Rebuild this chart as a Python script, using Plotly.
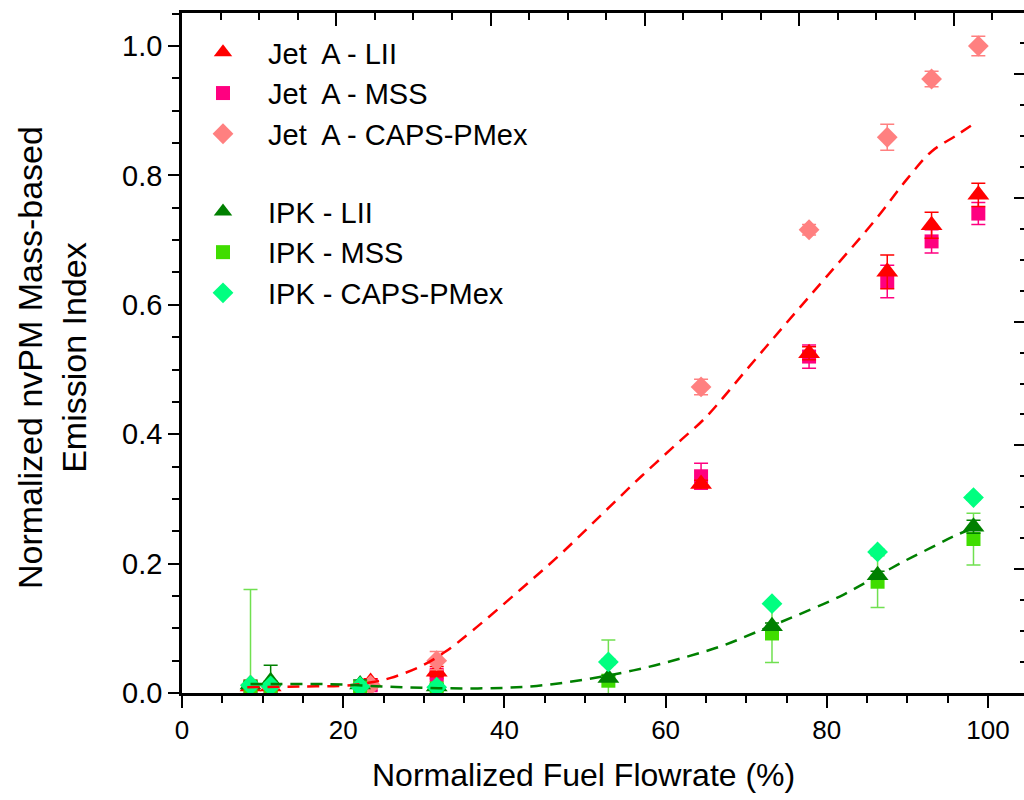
import plotly.graph_objects as go

# ---------------- data ----------------
jet_x = [8.5, 11.0, 23.4, 31.6, 64.4, 77.8, 87.5, 93.0, 98.8]
jet_lii = [0.010, 0.010, 0.017, 0.033, 0.323, 0.525, 0.651, 0.723, 0.770]
jet_lii_err = [0.005, 0.005, 0.005, 0.008, 0.006, 0.010, 0.026, 0.020, 0.018]
jet_mss = [0.008, 0.008, 0.012, 0.028, 0.335, 0.520, 0.636, 0.698, 0.741]
jet_mss_err = [0.012, 0.006, 0.008, 0.006, 0.020, 0.018, 0.025, 0.018, 0.017]
jet_caps = [0.012, 0.010, 0.012, 0.050, 0.473, 0.716, 0.859, 0.949, 1.000]
jet_caps_err = [0.005, 0.004, 0.005, 0.014, 0.012, 0.008, 0.020, 0.012, 0.015]

ipk_x = [8.5, 11.0, 22.1, 31.6, 52.9, 73.2, 86.3, 98.2]
ipk_lii = [0.013, 0.018, 0.013, 0.010, 0.023, 0.103, 0.182, 0.257]
ipk_lii_err = [0.005, 0.025, 0.007, 0.004, 0.004, 0.005, 0.006, 0.010]
ipk_mss = [0.010, 0.008, 0.008, 0.007, 0.019, 0.092, 0.172, 0.238]
ipk_mss_err = [0.150, 0.010, 0.005, 0.004, 0.063, 0.045, 0.040, 0.040]
ipk_caps = [0.012, 0.011, 0.010, 0.009, 0.048, 0.138, 0.218, 0.302]
ipk_caps_err = [0.004, 0.004, 0.004, 0.004, 0.004, 0.004, 0.004, 0.004]

jet_fit_x = [8.1, 14.7, 20.9, 23.7, 25.8, 29.6, 32.7, 36.1, 42, 47, 52, 57, 62, 64.9,
             70, 75, 80, 86, 90, 93, 96.1, 98.6]
jet_fit_y = [0.009, 0.010, 0.012, 0.017, 0.023, 0.041, 0.064, 0.097, 0.160, 0.215, 0.275,
             0.335, 0.392, 0.425, 0.499, 0.572, 0.644, 0.731, 0.795, 0.837, 0.862, 0.883]

ipk_fit_x = [8.5, 12, 16, 20, 25, 30, 35, 40, 44, 48, 52, 56, 60, 66.8, 72, 76.3, 81.6,
             85, 89.5, 93, 95.7, 98.2]
ipk_fit_y = [0.014, 0.014, 0.014, 0.013, 0.010, 0.008, 0.007, 0.008, 0.011, 0.017, 0.025,
             0.035, 0.047, 0.072, 0.098, 0.120, 0.149, 0.172, 0.203, 0.225, 0.242, 0.255]

x_ticks = [0, 20, 40, 60, 80, 100]
y_ticks = [0.0, 0.2, 0.4, 0.6, 0.8, 1.0]

C_JL, C_JM, C_JC = "#FF0000", "#FF0080", "#FF8080"
C_IL, C_IM, C_IC = "#008000", "#40DD00", "#00FF80"
FONT = "Liberation Sans, Arial, sans-serif"

fig = go.Figure()


def pts(x, y, err, name, color, symbol, size, group, rank, ecolor=None):
    fig.add_trace(go.Scatter(
        x=x, y=y, mode="markers", name=name, legendgroup=group, legendrank=rank,
        marker=dict(symbol=symbol, size=size, color=color, line=dict(width=0)),
        error_y=dict(type="data", array=err, visible=True, color=ecolor or color,
                     thickness=1.5, width=7),
    ))


pts(jet_x, jet_mss, jet_mss_err, "Jet\u00a0 A - MSS", C_JM, "square", 14, "jet", 2)
pts(jet_x, jet_lii, jet_lii_err, "Jet\u00a0 A - LII", C_JL, "triangle-up", 19, "jet", 1)
pts(jet_x, jet_caps, jet_caps_err, "Jet\u00a0 A - CAPS-PMex", C_JC, "diamond", 16, "jet", 3)
pts(ipk_x, ipk_mss, ipk_mss_err, "IPK - MSS", C_IM, "square", 14, "ipk", 5, "#70E050")
pts(ipk_x, ipk_lii, ipk_lii_err, "IPK - LII", C_IL, "triangle-up", 19, "ipk", 4)
pts(ipk_x, ipk_caps, ipk_caps_err, "IPK - CAPS-PMex", C_IC, "diamond", 16, "ipk", 6)

fig.add_trace(go.Scatter(x=jet_fit_x, y=jet_fit_y, mode="lines", showlegend=False,
                         line=dict(color="#FF0000", width=2.5, dash="12px,8px",
                                   shape="spline")))
fig.add_trace(go.Scatter(x=ipk_fit_x, y=ipk_fit_y, mode="lines", showlegend=False,
                         line=dict(color="#008000", width=2.5, dash="12px,8px",
                                   shape="spline")))

# helper trace so the top / right frame axes are drawn
fig.add_trace(go.Scatter(x=[None], y=[None], xaxis="x2", yaxis="y2", showlegend=False,
                         hoverinfo="skip"))

W, H = 1024, 800
L, R, T, B = 182, 0, 13, 107
pw = W - L - R
ph = H - T - B
xmax = pw / 8.06
ymax = ph / 647.0

fig.update_layout(
    width=W, height=H,
    margin=dict(l=L, r=R, t=T, b=B),
    paper_bgcolor="white", plot_bgcolor="white",
    font=dict(family=FONT, size=26, color="black"),
    showlegend=True,
    legend=dict(x=(178 - L) / pw, y=1 - 14 / ph, xanchor="left", yanchor="top",
                xref="paper", yref="paper",
                bgcolor="rgba(0,0,0,0)", borderwidth=0,
                font=dict(family=FONT, size=29, color="black"),
                traceorder="grouped", tracegroupgap=37,
                itemwidth=80),
    xaxis=dict(range=[0, xmax], tickvals=x_ticks, ticktext=[str(v) for v in x_ticks],
               showgrid=False, zeroline=False, showline=True, linecolor="black",
               linewidth=2.5, ticks="outside", ticklen=12, tickwidth=2, tickcolor="black",
               tickfont=dict(size=26), mirror=False,
               minor=dict(ticks="outside", ticklen=7, tickwidth=2, tickcolor="black",
                          dtick=5, tick0=0, showgrid=False)),
    yaxis=dict(range=[0, ymax], tickvals=y_ticks, ticktext=[f"{v:.1f}" for v in y_ticks],
               showgrid=False, zeroline=False, showline=True, linecolor="black",
               linewidth=2.5, ticks="outside", ticklen=11, tickwidth=2, tickcolor="black",
               tickfont=dict(size=29),
               minor=dict(ticks="outside", ticklen=7, tickwidth=2, tickcolor="black",
                          dtick=0.05, tick0=0, showgrid=False)),
    xaxis2=dict(overlaying="x", side="top", anchor="y", range=[0, pw / 154.3],
                dtick=1, tick0=0, showticklabels=False, showgrid=False, zeroline=False,
                showline=True, linecolor="black", linewidth=2.5, ticks="inside",
                ticklen=13, tickwidth=2, tickcolor="black",
                minor=dict(ticks="inside", ticklen=7, tickwidth=2, tickcolor="black",
                           dtick=0.25, tick0=0, showgrid=False)),
    yaxis2=dict(overlaying="y", side="right", anchor="x", range=[0, ph / 123.8],
                dtick=1, tick0=0, showticklabels=False, showgrid=False, zeroline=False,
                showline=False, ticks="inside", ticklen=10, tickwidth=2, tickcolor="black",
                minor=dict(ticks="inside", ticklen=4, tickwidth=2, tickcolor="black",
                           dtick=0.25, tick0=0, showgrid=False)),
)

fig.add_annotation(text="Normalized Fuel Flowrate (%)", xref="paper", yref="paper",
                   x=(583 - L) / pw, y=(H - B - 775) / ph, xanchor="center", yanchor="middle",
                   showarrow=False, font=dict(family=FONT, size=32, color="black"))
fig.add_annotation(text="Normalized nvPM Mass-based<br>Emission Index", xref="paper",
                   yref="paper", x=(52 - L) / pw, y=(H - B - 358) / ph, textangle=-90,
                   xanchor="center", yanchor="middle", showarrow=False,
                   font=dict(family=FONT, size=34, color="black"))

fig.write_html("out.html")
